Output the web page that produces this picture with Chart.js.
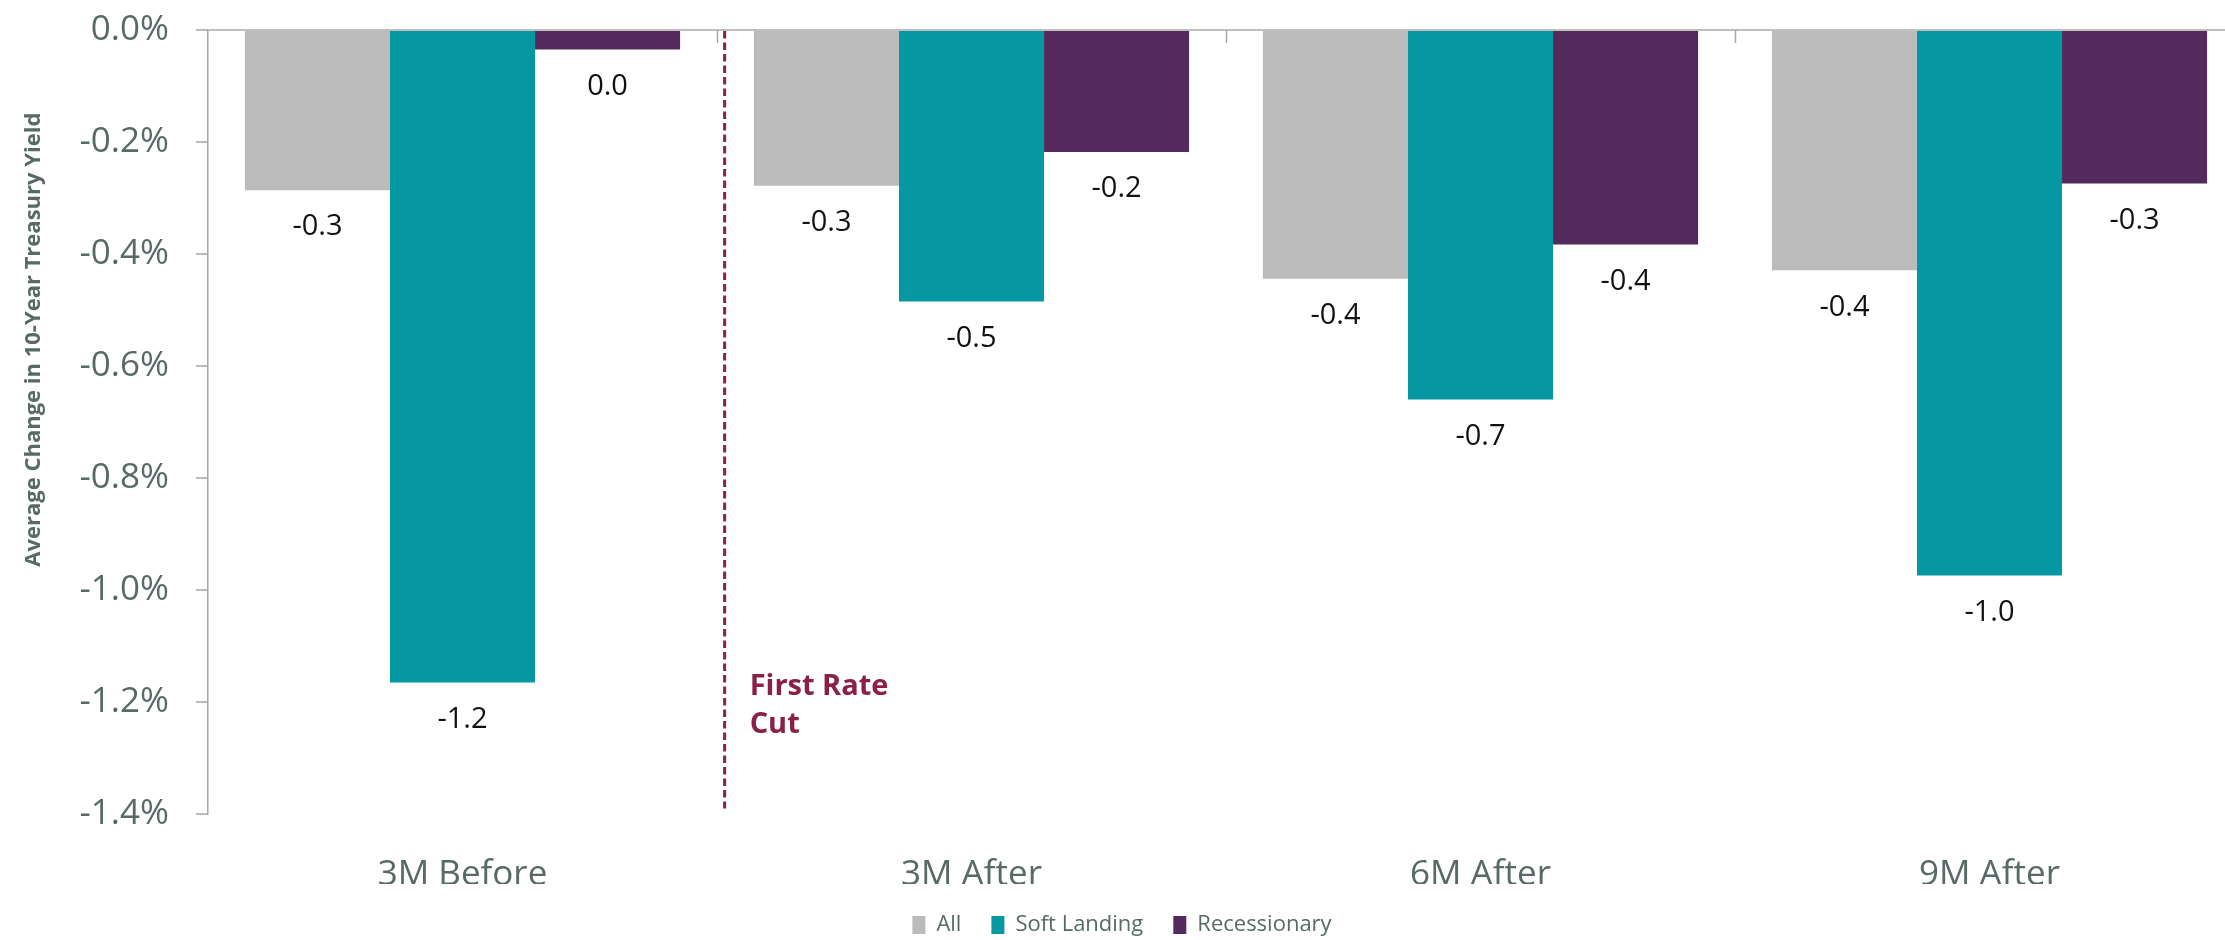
<!DOCTYPE html>
<html>
<head>
<meta charset="utf-8">
<title>10-Year Treasury Yield around the First Rate Cut</title>
<script src="https://cdn.jsdelivr.net/npm/chart.js@4.4.1/dist/chart.umd.min.js"></script>
<style>
  html, body { margin: 0; padding: 0; background: #ffffff; overflow: hidden; width: 2225px; height: 940px; }
  #wrap { position: relative; width: 2245px; height: 946px; }
</style>
</head>
<body>
<div id="wrap"><canvas id="chart"></canvas></div>
<script>
// Periods relative to the first cut of the easing cycle
const categories = ['3M Before', '3M After', '6M After', '9M After'];

// Average change in the 10-year yield (percentage points)
const allCycles    = [-0.286, -0.278, -0.444, -0.429];
const softLanding  = [-1.165, -0.485, -0.660, -0.974];
const recessionary = [-0.035, -0.218, -0.383, -0.274];

const seriesNames = ['All', 'Soft Landing', 'Recessionary'];

// Y axis range and tick step
const yMin = -1.4;
const yMax = 0;
const yStep = 0.2;

const axisTitle = 'Average Change in 10-Year Treasury Yield';
const cutLabel = ['First Rate', 'Cut'];
const cutPosition = 0.515;   // in category units, between "3M Before" and "3M After"

const TEXT_GREY = '#586a68';
const CUT_RED = '#8b1f48';

// Value labels under each bar
const valueLabels = {
  id: 'valueLabels',
  afterDatasetsDraw(chart) {
    const ctx = chart.ctx;
    ctx.save();
    ctx.font = '29px "Open Sans"';
    ctx.fillStyle = '#111111';
    ctx.textAlign = 'center';
    ctx.textBaseline = 'middle';
    chart.data.datasets.forEach((ds, di) => {
      const meta = chart.getDatasetMeta(di);
      meta.data.forEach((bar, i) => {
        const v = Math.round(ds.data[i] * 10) / 10;
        ctx.fillText(v.toFixed(1), bar.x, bar.y + 37);
      });
    });
    ctx.restore();
  }
};

// Dashed marker for the first rate cut, category separators and the rotated axis title
const decorations = {
  id: 'decorations',
  afterDatasetsDraw(chart) {
    const ctx = chart.ctx;
    const xs = chart.scales.x;
    const ys = chart.scales.y;
    const area = chart.chartArea;
    ctx.save();

    // small separator ticks hanging from the zero line
    ctx.strokeStyle = '#a6a6a6';
    ctx.lineWidth = 1.5;
    for (let i = 0; i < categories.length - 1; i++) {
      const x = Math.round(xs.getPixelForValue(i + 0.5)) + 0.5;
      ctx.beginPath();
      ctx.moveTo(x, area.top);
      ctx.lineTo(x, area.top + 13);
      ctx.stroke();
    }

    // first rate cut marker
    const cx = xs.getPixelForValue(cutPosition);
    ctx.strokeStyle = CUT_RED;
    ctx.lineWidth = 3;
    ctx.setLineDash([7.5, 4]);
    ctx.beginPath();
    ctx.moveTo(cx, area.top + 1);
    ctx.lineTo(cx, ys.getPixelForValue(-1.39));
    ctx.stroke();
    ctx.setLineDash([]);

    ctx.fillStyle = CUT_RED;
    ctx.font = 'bold 29px "Open Sans"';
    ctx.textAlign = 'left';
    ctx.textBaseline = 'alphabetic';
    const base = ys.getPixelForValue(-1.187);
    cutLabel.forEach((line, k) => ctx.fillText(line, cx + 25, base + k * 38));

    ctx.restore();
  },
  afterDraw(chart) {
    const ctx = chart.ctx;
    const ys = chart.scales.y;
    ctx.save();
    ctx.translate(34, ys.getPixelForValue(-0.553));
    ctx.rotate(-Math.PI / 2);
    ctx.font = 'bold 22px "Open Sans"';
    ctx.fillStyle = TEXT_GREY;
    ctx.textAlign = 'center';
    ctx.textBaseline = 'middle';
    ctx.fillText(axisTitle, 0, 0);
    ctx.restore();
  }
};

const ctx = document.getElementById('chart');
new Chart(ctx, {
  type: 'bar',
  data: {
    labels: categories,
    datasets: [
      { label: seriesNames[0], data: allCycles,    backgroundColor: '#bbbbbb' },
      { label: seriesNames[1], data: softLanding,  backgroundColor: '#0598a2' },
      { label: seriesNames[2], data: recessionary, backgroundColor: '#542a5c' }
    ]
  },
  options: {
    responsive: true,
    maintainAspectRatio: false,
    animation: false,
    devicePixelRatio: 1,
    layout: { padding: { top: 30, right: 1, left: 0, bottom: 0 } },
    datasets: {
      bar: { categoryPercentage: 0.855, barPercentage: 1.0, borderWidth: 0 }
    },
    plugins: {
      tooltip: { enabled: false },
      legend: {
        position: 'bottom',
        labels: {
          font: { family: 'Open Sans', size: 22 },
          color: TEXT_GREY,
          boxWidth: 13,
          boxHeight: 18,
          padding: 30
        }
      }
    },
    scales: {
      x: {
        grid: { display: false },
        border: { display: false },
        ticks: {
          font: { family: 'Open Sans', size: 35 },
          color: TEXT_GREY,
          padding: 32
        },
        afterFit(scale) {
          const lg = scale.chart.legend;
          scale.height = scale.chart.height - (lg ? lg.height : 0) - 814;
        }
      },
      y: {
        min: yMin,
        max: yMax,
        ticks: {
          stepSize: yStep,
          font: { family: 'Open Sans', size: 35 },
          color: TEXT_GREY,
          padding: 27,
          callback: (v) => (Math.abs(v) < 1e-9 ? 0 : v).toFixed(1) + '%'
        },
        grid: {
          color: (c) => (c.tick && Math.abs(c.tick.value) < 1e-9 ? '#bfbfbf' : 'rgba(0,0,0,0)'),
          lineWidth: 2,
          tickColor: '#a6a6a6',
          tickWidth: 1.5,
          tickLength: 12
        },
        border: { display: true, color: '#a6a6a6', width: 1.5 },
        afterFit(scale) {
          scale.width = 208;
          scale.paddingTop = 0;
          scale.paddingBottom = 0;
        }
      }
    }
  },
  plugins: [valueLabels, decorations]
});
</script>
</body>
</html>
